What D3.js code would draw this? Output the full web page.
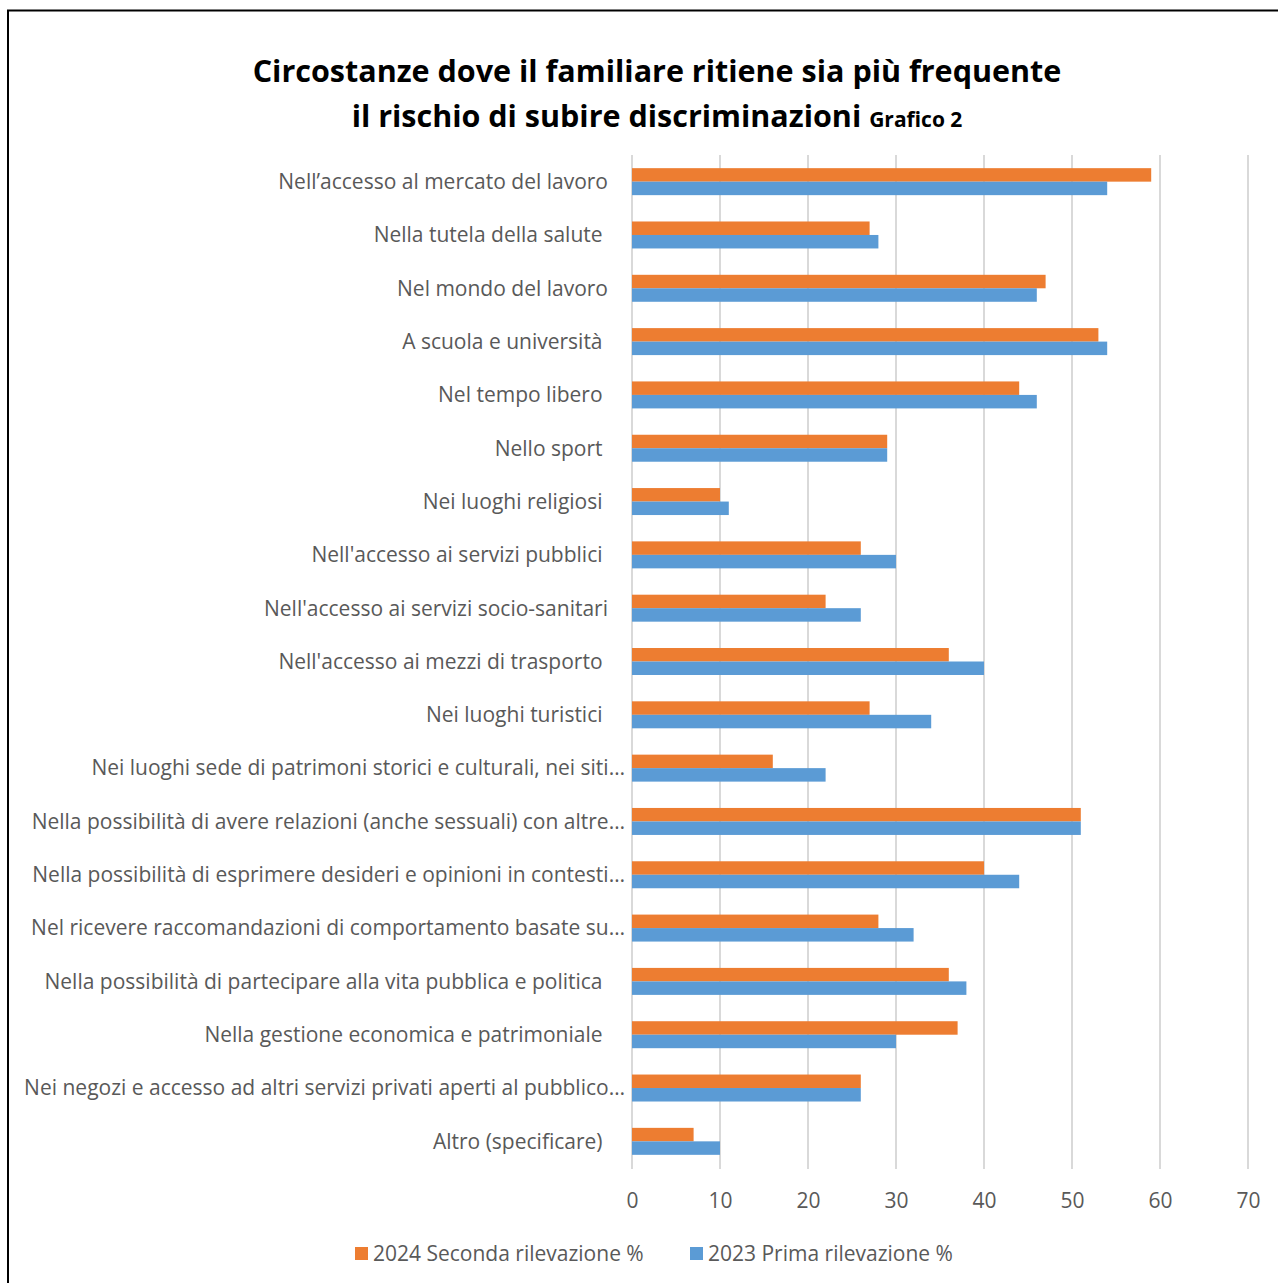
<!DOCTYPE html>
<html>
<head>
<meta charset="utf-8">
<script src="https://cdn.jsdelivr.net/npm/d3@7"></script>
<style>
  html, body { margin: 0; padding: 0; background: #fff; }
  svg { display: block; }
  text { white-space: pre; }
</style>
</head>
<body>
<svg id="chart" width="1278" height="1283"></svg>
<script>
// Circostanze di discriminazione: confronto tra le due rilevazioni (valori %)
const categories = [
  "Nell\u2019accesso al mercato del lavoro",
  "Nella tutela della salute ",
  "Nel mondo del lavoro",
  "A scuola e università ",
  "Nel tempo libero ",
  "Nello sport ",
  "Nei luoghi religiosi ",
  "Nell'accesso ai servizi pubblici ",
  "Nell'accesso ai servizi socio-sanitari",
  "Nell'accesso ai mezzi di trasporto ",
  "Nei luoghi turistici ",
  "Nei luoghi sede di patrimoni storici e culturali, nei siti…",
  "Nella possibilità di avere relazioni (anche sessuali) con altre…",
  "Nella possibilità di esprimere desideri e opinioni in contesti…",
  "Nel ricevere raccomandazioni di comportamento basate su…",
  "Nella possibilità di partecipare alla vita pubblica e politica ",
  "Nella gestione economica e patrimoniale ",
  "Nei negozi e accesso ad altri servizi privati aperti al pubblico…",
  "Altro (specificare) "
];
const values2024 = [59, 27, 47, 53, 44, 29, 10, 26, 22, 36, 27, 16, 51, 40, 28, 36, 37, 26, 7];
const values2023 = [54, 28, 46, 54, 46, 29, 11, 30, 26, 40, 34, 22, 51, 44, 32, 38, 30, 26, 10];
const seriesNames = ["2024 Seconda rilevazione %", "2023 Prima rilevazione %"];
const xTicks = [0, 10, 20, 30, 40, 50, 60, 70];

const colors = { "2024 Seconda rilevazione %": "#ED7D31", "2023 Prima rilevazione %": "#5B9BD5" };
const font = "'Open Sans', sans-serif";
const textGray = "#595959";
const labelSize = 21;

const svg = d3.select("#chart");

// chart frame
svg.append("rect")
  .attr("x", 8).attr("y", 10.5)
  .attr("width", 1300).attr("height", 1300)
  .attr("fill", "none").attr("stroke", "#000").attr("stroke-width", 2);

// title
const title = svg.append("text")
  .attr("text-anchor", "middle")
  .attr("font-family", font).attr("font-weight", "bold").attr("fill", "#000");
title.append("tspan").attr("x", 657).attr("y", 82).attr("font-size", 30.5)
  .text("Circostanze dove il familiare ritiene sia più frequente");
const l2 = title.append("tspan").attr("x", 657).attr("y", 127).attr("font-size", 30.5);
l2.append("tspan").text("il rischio di subire discriminazioni ");
l2.append("tspan").attr("font-size", 21).text("Grafico 2");

// scales
const x = d3.scaleLinear().domain([0, 70]).range([632, 1248]);
const y = d3.scaleBand().domain(categories).range([155, 1168]).paddingInner(0.494).paddingOuter(0.247);
const ySub = d3.scaleBand().domain(seriesNames).range([0, y.bandwidth()]);

// vertical gridlines
svg.append("g").selectAll("line").data(xTicks).join("line")
  .attr("x1", d => x(d)).attr("x2", d => x(d))
  .attr("y1", 155).attr("y2", 1169)
  .attr("stroke", "#d9d9d9").attr("stroke-width", 2);

// bars
const rows = categories.map((c, i) => ({
  cat: c,
  vals: [
    { s: seriesNames[0], v: values2024[i] },
    { s: seriesNames[1], v: values2023[i] }
  ]
}));
const groups = svg.append("g").selectAll("g").data(rows).join("g")
  .attr("transform", d => `translate(0,${y(d.cat)})`);
groups.selectAll("rect").data(d => d.vals).join("rect")
  .attr("x", x(0))
  .attr("y", d => ySub(d.s))
  .attr("width", d => x(d.v) - x(0))
  .attr("height", ySub.bandwidth())
  .attr("fill", d => colors[d.s]);

// category labels
svg.append("g").selectAll("text").data(categories).join("text")
  .attr("x", d => d.endsWith("…") ? 625 : 608)
  .attr("y", d => y(d) + y.bandwidth() / 2)
  .attr("dy", "0.35em")
  .attr("text-anchor", "end")
  .attr("font-family", font).attr("font-size", labelSize)
  .attr("fill", textGray)
  .text(d => d);

// x axis tick labels
const xAxis = d3.axisBottom(x).tickValues(xTicks).tickSize(0).tickPadding(0);
const gx = svg.append("g").attr("transform", "translate(0,1193)").call(xAxis);
gx.select(".domain").remove();
gx.selectAll("text")
  .attr("font-family", font).attr("font-size", labelSize).attr("fill", textGray);

// legend
const legendItems = [
  { s: seriesNames[0], x: 355 },
  { s: seriesNames[1], x: 690 }
];
const lg = svg.append("g").selectAll("g").data(legendItems).join("g")
  .attr("transform", d => `translate(${d.x},1247)`);
lg.append("rect").attr("width", 13).attr("height", 13).attr("fill", d => colors[d.s]);
lg.append("text").attr("x", 18).attr("y", 6.5).attr("dy", "0.35em")
  .attr("font-family", font).attr("font-size", labelSize).attr("fill", textGray)
  .text(d => d.s);
</script>
</body>
</html>
